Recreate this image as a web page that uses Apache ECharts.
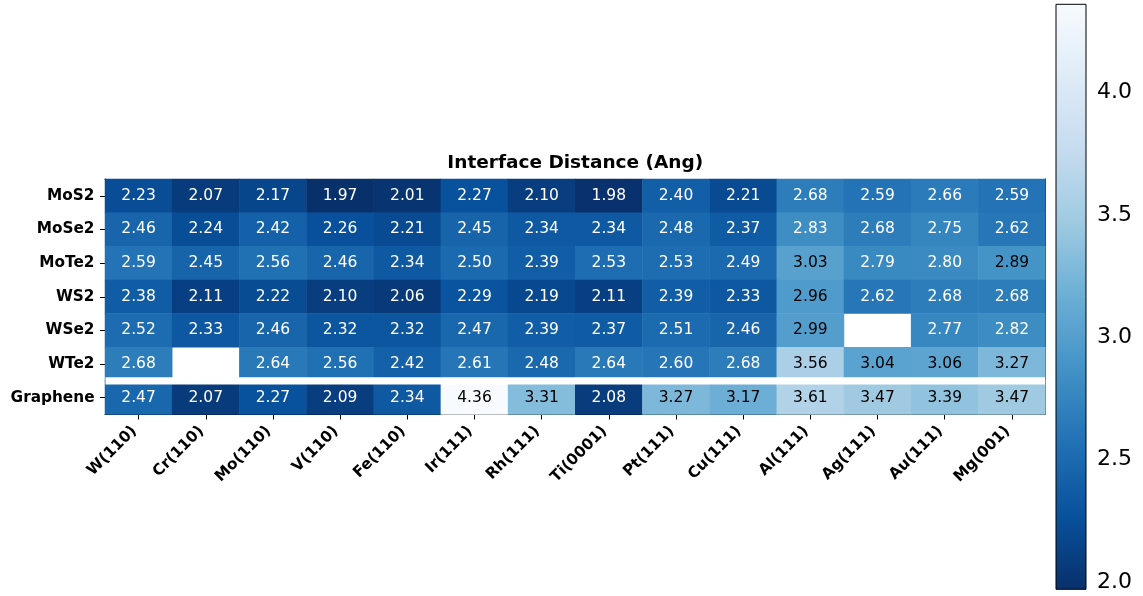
<!DOCTYPE html>
<html>
<head>
<meta charset="utf-8">
<title>Interface Distance (Ang)</title>
<script src="https://cdn.jsdelivr.net/npm/echarts@6/dist/echarts.min.js"></script>
<style>
  html, body { margin: 0; padding: 0; background: #fff; }
  #chart { width: 1143px; height: 596px; }
</style>
</head>
<body>
<div id="chart"></div>
<script>
// Substrate surfaces (columns) and 2D layers (rows)
const substrates = ['W(110)', 'Cr(110)', 'Mo(110)', 'V(110)', 'Fe(110)', 'Ir(111)', 'Rh(111)',
  'Ti(0001)', 'Pt(111)', 'Cu(111)', 'Al(111)', 'Ag(111)', 'Au(111)', 'Mg(001)'];
const layers = ['MoS2', 'MoSe2', 'MoTe2', 'WS2', 'WSe2', 'WTe2', 'Graphene'];

// Interface distance in Angstrom, one array per layer (null = no data)
const MoS2 = [2.23, 2.07, 2.17, 1.97, 2.01, 2.27, 2.10, 1.98, 2.40, 2.21, 2.68, 2.59, 2.66, 2.59];
const MoSe2 = [2.46, 2.24, 2.42, 2.26, 2.21, 2.45, 2.34, 2.34, 2.48, 2.37, 2.83, 2.68, 2.75, 2.62];
const MoTe2 = [2.59, 2.45, 2.56, 2.46, 2.34, 2.50, 2.39, 2.53, 2.53, 2.49, 3.03, 2.79, 2.80, 2.89];
const WS2 = [2.38, 2.11, 2.22, 2.10, 2.06, 2.29, 2.19, 2.11, 2.39, 2.33, 2.96, 2.62, 2.68, 2.68];
const WSe2 = [2.52, 2.33, 2.46, 2.32, 2.32, 2.47, 2.39, 2.37, 2.51, 2.46, 2.99, null, 2.77, 2.82];
const WTe2 = [2.68, null, 2.64, 2.56, 2.42, 2.61, 2.48, 2.64, 2.60, 2.68, 3.56, 3.04, 3.06, 3.27];
const Graphene = [2.47, 2.07, 2.27, 2.09, 2.34, 4.36, 3.31, 2.08, 3.27, 3.17, 3.61, 3.47, 3.39, 3.47];

// Colour bar range and ticks
const vMin = 1.97;
const vMax = 4.36;
const colorbarTicks = [2.0, 2.5, 3.0, 3.5, 4.0];

// Blues colormap, reversed (dark = small distance)
const blues = ['#f7fbff', '#deebf7', '#c6dbef', '#9ecae1', '#6baed6', '#4292c6', '#2171b5', '#08519c', '#08306b'];
const bluesReversed = blues.slice().reverse();

const FONT = 'DejaVu Sans';
const rowsData = [MoS2, MoSe2, MoTe2, WS2, WSe2, WTe2, Graphene];

const cells = [];
rowsData.forEach((row, r) => {
  row.forEach((v, c) => {
    if (v === null) return;
    cells.push({
      value: [c, r, v],
      label: { color: v >= 2.85 ? '#000000' : '#ffffff' }
    });
  });
});

// Main heatmap frame
const G = { left: 105, top: 179, width: 940.5, height: 235.5 };
// Colour bar frame
const CB = { left: 1056, top: 4.3, width: 30, height: 585 };

const chart = echarts.init(document.getElementById('chart'), null, { renderer: 'canvas' });

chart.setOption({
  animation: false,
  backgroundColor: '#ffffff',
  textStyle: { fontFamily: FONT },
  grid: [
    { left: G.left, top: G.top, width: G.width, height: G.height },
    { left: CB.left, top: CB.top, width: CB.width, height: CB.height }
  ],
  graphic: [{
    type: 'text',
    x: G.left + G.width / 2,
    y: 163,
    style: {
      text: 'Interface Distance (Ang)',
      font: 'bold 18.5px "DejaVu Sans"',
      fill: '#000',
      align: 'center',
      verticalAlign: 'middle'
    }
  }],
  xAxis: [
    {
      type: 'category', data: substrates, gridIndex: 0, position: 'bottom',
      axisLine: { show: true, lineStyle: { color: '#000', width: 1 } },
      axisTick: { show: true, alignWithLabel: true, length: 5, lineStyle: { color: '#000' } },
      axisLabel: {
        rotate: 45, interval: 0, margin: 10, padding: [0, 6, 0, 0],
        color: '#000', fontWeight: 'bold', fontSize: 15.3, fontFamily: FONT
      },
      splitLine: { show: false }
    },
    {
      type: 'category', data: substrates, gridIndex: 0, position: 'top',
      axisLine: { show: true, lineStyle: { color: '#000', width: 1 } },
      axisTick: { show: false }, axisLabel: { show: false }, splitLine: { show: false }
    },
    {
      type: 'value', gridIndex: 1, min: 0, max: 1, position: 'bottom',
      axisLine: { show: false }, axisTick: { show: false }, axisLabel: { show: false }, splitLine: { show: false }
    }
  ],
  yAxis: [
    {
      type: 'category', data: layers, gridIndex: 0, inverse: true, position: 'left',
      axisLine: { show: true, lineStyle: { color: '#000', width: 1 } },
      axisTick: { show: true, alignWithLabel: true, length: 5, lineStyle: { color: '#000' } },
      axisLabel: { interval: 0, margin: 10.5, color: '#000', fontWeight: 'bold', fontSize: 15.3, fontFamily: FONT },
      splitLine: { show: false }
    },
    {
      type: 'category', data: layers, gridIndex: 0, inverse: true, position: 'right',
      axisLine: { show: true, lineStyle: { color: '#000', width: 1 } },
      axisTick: { show: false }, axisLabel: { show: false }, splitLine: { show: false }
    },
    {
      type: 'value', gridIndex: 1, min: vMin, max: vMax, position: 'right',
      axisLine: { show: false },
      axisTick: { show: true, length: 5, customValues: colorbarTicks, lineStyle: { color: '#000' } },
      axisLabel: {
        customValues: colorbarTicks, margin: 11, color: '#000', fontSize: 22, fontFamily: FONT,
        formatter: v => Number(v).toFixed(1)
      },
      splitLine: { show: false }
    }
  ],
  visualMap: {
    type: 'continuous',
    show: false,
    min: vMin,
    max: vMax,
    dimension: 2,
    seriesIndex: 0,
    inRange: { color: bluesReversed }
  },
  series: [
    {
      type: 'heatmap',
      xAxisIndex: 0,
      yAxisIndex: 0,
      data: cells,
      label: {
        show: true,
        fontSize: 15.5,
        fontFamily: FONT,
        formatter: p => p.value[2].toFixed(2)
      },
      emphasis: { disabled: true },
      z: 2
    },
    {
      // white separator between the TMD rows and the graphene row
      type: 'custom',
      xAxisIndex: 0,
      yAxisIndex: 0,
      data: [[0, layers.length - 1]],
      renderItem: (params, api) => {
        const cs = params.coordSys;
        const a = api.coord([0, layers.length - 2]);
        const b = api.coord([0, layers.length - 1]);
        const mid = (a[1] + b[1]) / 2;
        const band = Math.abs(b[1] - a[1]);
        const h = band * 0.215;
        return {
          type: 'rect',
          shape: { x: cs.x + 0.5, y: mid - h / 2, width: cs.width - 1, height: h },
          style: { fill: '#ffffff' }
        };
      },
      silent: true,
      z: 3
    },
    {
      // colour bar
      type: 'custom',
      xAxisIndex: 2,
      yAxisIndex: 2,
      data: [[0, vMin, 1, vMax]],
      renderItem: (params, api) => {
        const p0 = api.coord([0, vMax]);
        const p1 = api.coord([1, vMin]);
        const stops = blues.map((c, i) => ({ offset: i / (blues.length - 1), color: c }));
        return {
          type: 'rect',
          shape: { x: p0[0], y: p0[1], width: p1[0] - p0[0], height: p1[1] - p0[1] },
          style: {
            fill: new echarts.graphic.LinearGradient(0, 0, 0, 1, stops),
            stroke: '#000',
            lineWidth: 1
          }
        };
      },
      silent: true,
      z: 2
    }
  ]
});
</script>
</body>
</html>
